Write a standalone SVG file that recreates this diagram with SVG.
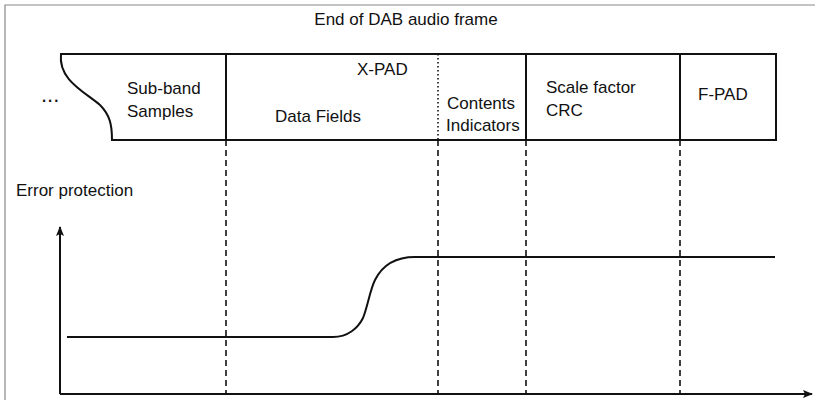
<svg xmlns="http://www.w3.org/2000/svg" width="815" height="400" viewBox="0 0 815 400">
<style>
text{font-family:"Liberation Sans",Arial,sans-serif;font-size:17px;fill:#111}
.ln{stroke:#111;stroke-width:2;fill:none}
.dash{stroke:#111;stroke-width:1.6;stroke-dasharray:6,4;fill:none}
.dot{stroke:#111;stroke-width:1.6;stroke-dasharray:1.5,2.5;fill:none}
.frame{stroke:#888;stroke-width:1.2;fill:none}
</style>
<defs>
<marker id="ah" viewBox="0 0 10 10" refX="9" refY="5" markerWidth="10" markerHeight="10" markerUnits="userSpaceOnUse" orient="auto">
<path d="M0,1 L10,5 L0,9 L2,5 Z" fill="#111"/>
</marker>
</defs>
<rect width="815" height="400" fill="#fff"/>
<path class="frame" d="M5,400 L5,5 L815,5"/>
<g id="title"><text x="406" y="25" text-anchor="middle">End of DAB audio frame</text></g>
<g id="ellipsis"><text x="41" y="102" style="font-size:22px">...</text></g>
<g id="seg-subband">
<path class="ln" d="M226,54 L61,54 C58,80 85,92 100,105 C110,115 112,125 112,140 L226,140"/>
<text x="127" y="94">Sub-band</text>
<text x="127" y="117">Samples</text>
</g>
<g id="seg-xpad">
<path class="ln" d="M226,54 L438,54 M226,140 L438,140 M226,54 L226,140"/>
<text x="357" y="75">X-PAD</text>
<text x="275" y="122">Data Fields</text>
</g>
<g id="seg-contents">
<path class="ln" d="M438,54 L526,54 M438,140 L526,140"/>
<path class="dot" d="M438,54 L438,140"/>
<text x="447" y="109">Contents</text>
<text x="446" y="131">Indicators</text>
</g>
<g id="seg-scf">
<path class="ln" d="M526,54 L680,54 M526,140 L680,140 M526,54 L526,140"/>
<text x="546" y="93">Scale factor</text>
<text x="546" y="116">CRC</text>
</g>
<g id="seg-fpad">
<path class="ln" d="M680,54 L776,54 L776,140 L680,140 M680,54 L680,140"/>
<text x="698" y="100">F-PAD</text>
</g>
<g id="connectors">
<path class="dash" d="M226,140 L226,394 M438,140 L438,394 M526,140 L526,394 M680,140 L680,394"/>
</g>
<g id="axes">
<path class="ln" d="M60,394 L60,227" marker-end="url(#ah)"/>
<path class="ln" d="M60,394 L812,394" marker-end="url(#ah)"/>
<text x="16" y="196">Error protection</text>
</g>
<g id="curve">
<path class="ln" d="M67,337 L333,337 C348,337 358,328 363,318 C368,305 370,290 375,280 C382,266 395,257 415,257 L775,257"/>
</g>
</svg>
